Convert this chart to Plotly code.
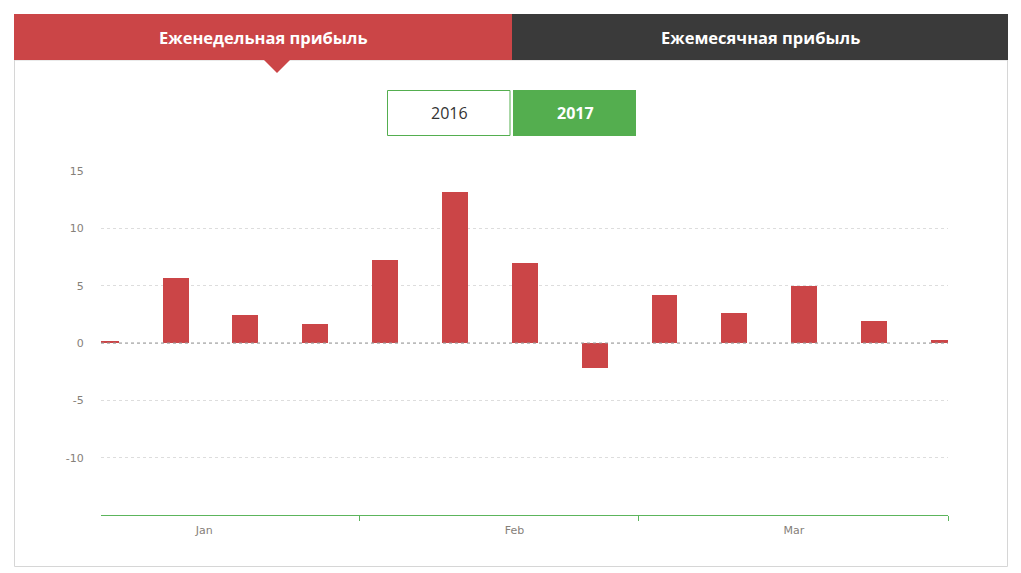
import plotly.graph_objects as go

# weekly profit, 2017
weeks = ["2017-01-06 14:00", "2017-01-13 14:00", "2017-01-20 14:00", "2017-01-27 14:00",
         "2017-02-03 14:00", "2017-02-10 14:00", "2017-02-17 14:00", "2017-02-24 14:00",
         "2017-03-03 14:00", "2017-03-10 14:00", "2017-03-17 14:00", "2017-03-24 14:00",
         "2017-03-31 14:00"]
profit = [0.1, 5.64, 2.4, 1.7, 7.22, 13.2, 6.96, -2.14, 4.15, 2.66, 5.0, 1.93, 0.27]

month_labels = ["Jan", "Feb", "Mar"]
month_label_pos = ["2017-01-16 11:00", "2017-02-16 13:00", "2017-03-16 13:00"]
month_bounds = ["2017-02-01", "2017-03-01", "2017-04-01"]
y_ticks = [-10, -5, 0, 5, 10, 15]
y_tick_text = ["-10", "-5", "0", "5", "10", "15"]

tab_titles = ["Еженедельная прибыль", "Ежемесячная прибыль"]
years = ["2016", "2017"]

RED = "#cb4547"
DARK = "#3a3a3a"
GREEN = "#54ae4f"

W, H = 1021, 573
L, R, T, B = 101, 948, 171, 515


def px(x):
    return (x - L) / (R - L)


def py(y):
    return (B - y) / (B - T)


fig = go.Figure()
fig.add_trace(go.Bar(x=weeks, y=profit, marker_color=RED, marker_line_width=0,
                     width=2.6 * 86400000, hoverinfo="x+y"))

shapes = [
    # panel border
    dict(type="rect", xref="paper", yref="paper", x0=px(14.5), x1=px(1007.5), y0=py(566.5), y1=py(60),
         line=dict(color="#d6d6d6", width=1), fillcolor="rgba(0,0,0,0)", layer="below"),
    # tabs
    dict(type="rect", xref="paper", yref="paper", x0=px(14), x1=px(512), y0=py(60), y1=py(14),
         line_width=0, fillcolor=RED),
    dict(type="rect", xref="paper", yref="paper", x0=px(512), x1=px(1008), y0=py(60), y1=py(14),
         line_width=0, fillcolor=DARK),
    dict(type="path", xref="paper", yref="paper",
         path="M %f,%f L %f,%f L %f,%f Z" % (px(263), py(59), px(291), py(59), px(277), py(73)),
         line_width=0, fillcolor=RED),
    # year buttons
    dict(type="rect", xref="paper", yref="paper", x0=px(387.5), x1=px(510), y0=py(135.5), y1=py(90.5),
         line=dict(color=GREEN, width=1), fillcolor="white"),
    dict(type="rect", xref="paper", yref="paper", x0=px(513), x1=px(636), y0=py(136), y1=py(90),
         line_width=0, fillcolor=GREEN),
    # zero line
    dict(type="line", xref="paper", yref="y", x0=0, x1=1, y0=0, y1=0,
         line=dict(color="#9a9a9a", width=1, dash="dot"), layer="above"),
]


def label(text, x, y, size, color):
    return dict(text=text, x=px(x), y=py(y), xref="paper", yref="paper",
                xanchor="center", yanchor="middle", showarrow=False,
                font=dict(family="Open Sans", size=size, color=color))


annotations = [
    label("<b>%s</b>" % tab_titles[0], 263, 37, 16.5, "white"),
    label("<b>%s</b>" % tab_titles[1], 760, 37, 16.5, "white"),
    label(years[0], 449, 113, 16, "#333333"),
    label("<b>%s</b>" % years[1], 575, 113, 16, "white"),
]

fig.update_layout(
    width=W, height=H,
    margin=dict(l=L, r=W - R, t=T, b=H - B, pad=0),
    paper_bgcolor="white", plot_bgcolor="white",
    showlegend=False, bargap=0,
    shapes=shapes, annotations=annotations,
    font=dict(family="DejaVu Sans", size=11, color="#858079"),
)

fig.update_xaxes(
    type="date", range=["2017-01-06 02:30", "2017-04-01"],
    tickmode="array", tickvals=month_label_pos, ticktext=month_labels,
    ticks="outside", ticklen=5, tickcolor="rgba(0,0,0,0)",
    showgrid=False, zeroline=False,
    showline=True, linecolor="#5cb55c", linewidth=1,
    minor=dict(tickmode="array", tickvals=month_bounds, ticks="outside", ticklen=5,
               tickcolor="#5cb55c", tickwidth=1, showgrid=False),
    fixedrange=True,
)

fig.update_yaxes(
    range=[-15, 15], tickmode="array", tickvals=y_ticks, ticktext=y_tick_text,
    ticks="outside", ticklen=14, tickcolor="rgba(0,0,0,0)",
    showgrid=True, gridcolor="#dddddd", griddash="dot", gridwidth=1,
    zeroline=False, showline=False, fixedrange=True,
)

fig.write_html("out.html", config={"displayModeBar": False},
               post_script="document.body.style.margin='0px';document.body.style.overflow='hidden';")
